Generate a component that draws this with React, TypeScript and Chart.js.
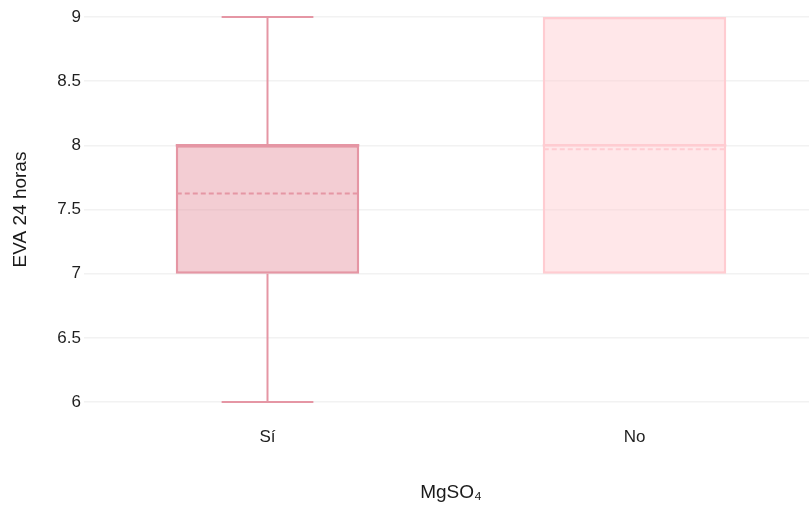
import React, { useEffect, useRef } from "react";
import Chart from "chart.js/auto";

const categories = ["Sí", "No"];
const minValues = [6, 7];
const q1Values = [7, 7];
const medianValues = [8, 8];
const q3Values = [8, 9];
const maxValues = [9, 9];
const meanValues = [7.625, 7.97];
const yTicks = [6, 6.5, 7, 7.5, 8, 8.5, 9];

const strokeColors = ["rgb(229,150,164)", "rgb(255,204,209)"];
const fillColors = ["rgba(229,150,164,0.48)", "rgba(255,204,209,0.48)"];

const FONT = "'Liberation Sans', Arial, Helvetica, sans-serif";

const boxPlugin = {
  id: "boxExtras",
  afterDatasetsDraw(chart: any) {
    const { ctx, scales } = chart;
    const x = scales.x;
    const y = scales.y;
    const meta = chart.getDatasetMeta(0);
    categories.forEach((_, i) => {
      const bar = meta.data[i];
      const cx = x.getPixelForValue(i);
      const half = bar.width / 2;
      const capHalf = half / 2;
      ctx.save();
      ctx.strokeStyle = strokeColors[i];
      ctx.lineWidth = 2;
      ctx.lineCap = "butt";
      const drawLine = (x1: number, y1: number, x2: number, y2: number) => {
        ctx.beginPath();
        ctx.moveTo(x1, y1);
        ctx.lineTo(x2, y2);
        ctx.stroke();
      };
      if (minValues[i] < q1Values[i]) {
        const yMin = y.getPixelForValue(minValues[i]);
        const yQ1 = y.getPixelForValue(q1Values[i]);
        drawLine(cx, yQ1, cx, yMin);
        drawLine(cx - capHalf, yMin, cx + capHalf, yMin);
      }
      if (maxValues[i] > q3Values[i]) {
        const yMax = y.getPixelForValue(maxValues[i]);
        const yQ3 = y.getPixelForValue(q3Values[i]);
        drawLine(cx, yQ3, cx, yMax);
        drawLine(cx - capHalf, yMax, cx + capHalf, yMax);
      }
      const yMed = y.getPixelForValue(medianValues[i]);
      ctx.lineWidth = 2.5;
      drawLine(cx - half, yMed, cx + half, yMed);
      ctx.lineWidth = 2;
      const yMean = y.getPixelForValue(meanValues[i]);
      ctx.setLineDash([5, 3]);
      drawLine(cx - half + 1, yMean, cx + half - 1, yMean);
      ctx.restore();
    });
  },
};

export default function App() {
  const canvasRef = useRef<HTMLCanvasElement | null>(null);

  useEffect(() => {
    if (!canvasRef.current) return;
    const chart = new Chart(canvasRef.current, {
      type: "bar",
      data: {
        labels: categories,
        datasets: [
          {
            label: "EVA 24 horas",
            data: categories.map((_, i) => [q1Values[i], q3Values[i]]) as any,
            backgroundColor: fillColors,
            borderColor: strokeColors,
            borderWidth: 2.5,
            borderSkipped: false,
            barPercentage: 0.5,
            categoryPercentage: 1,
          },
        ],
      },
      options: {
        responsive: false,
        animation: false,
        devicePixelRatio: 1,
        layout: { padding: { top: 17, left: 0, right: 0, bottom: 0 } },
        plugins: {
          legend: { display: false },
          tooltip: { enabled: false },
        },
        scales: {
          x: {
            type: "category",
            grid: { display: false, drawTicks: false },
            border: { display: false },
            ticks: {
              color: "#1f1f1f",
              font: { family: FONT, size: 17 },
              padding: 25,
            },
            title: {
              display: true,
              text: "MgSO₄",
              color: "#1a1a1a",
              font: { family: FONT, size: 19 },
              padding: { top: 4, bottom: 4 },
            },
            afterFit: (scale: any) => {
              scale.height = 106;
            },
          },
          y: {
            min: 6,
            max: 9,
            grid: { color: "#f2f2f2", lineWidth: 1.5, drawTicks: false },
            border: { display: false },
            afterBuildTicks: (scale: any) => {
              scale.ticks = yTicks.map((v) => ({ value: v }));
            },
            ticks: {
              color: "#1f1f1f",
              font: { family: FONT, size: 17 },
              padding: 3,
              callback: (v: any) => String(v),
            },
            title: {
              display: true,
              text: "EVA 24 horas",
              color: "#1a1a1a",
              font: { family: FONT, size: 19 },
              padding: { top: 9, bottom: 4 },
            },
            afterFit: (scale: any) => {
              scale.width = 84;
            },
          },
        },
      },
      plugins: [boxPlugin],
    });
    return () => chart.destroy();
  }, []);

  return (
    <div
      style={{
        position: "fixed",
        left: 0,
        top: 0,
        width: 809,
        height: 508,
        overflow: "hidden",
        background: "#fff",
      }}
    >
      <canvas ref={canvasRef} width={818} height={508} style={{ display: "block" }} />
    </div>
  );
}
